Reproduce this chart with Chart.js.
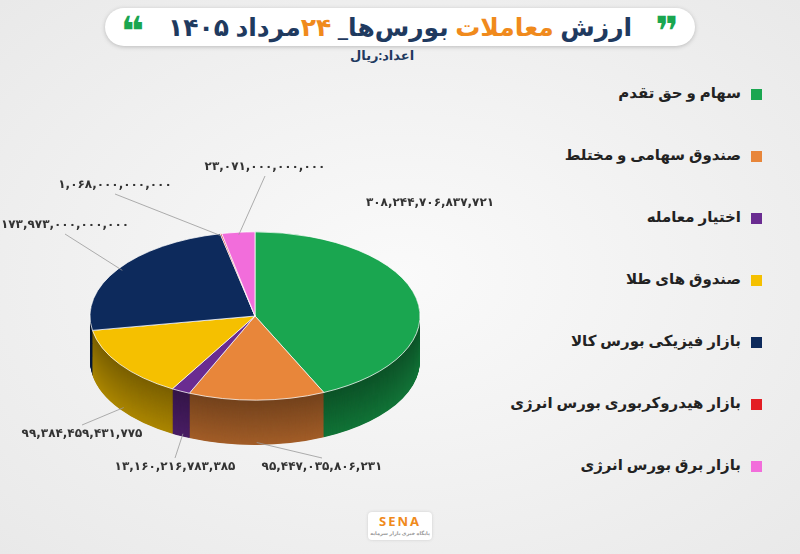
<!DOCTYPE html>
<html><head><meta charset="utf-8">
<script src="https://cdn.jsdelivr.net/npm/chart.js@4"></script>
<style>
body{margin:0;width:800px;height:554px;background:radial-gradient(ellipse at center,#fafafa,#e9e9e9);font-family:"Noto Sans","DejaVu Sans",sans-serif;position:relative;overflow:hidden}
#title{position:absolute;left:105px;top:8px;width:590px;height:38px;border-radius:20px;background:#fff;box-shadow:0 1px 4px #bbb;text-align:center;direction:rtl;font-weight:bold;font-size:25px;line-height:36px;color:#1f3a5f}
#title .o{color:#f08a1c}
#title .q{color:#1aa650;font-size:40px;position:absolute;top:4px}
#sub{position:absolute;left:350px;top:46px;font-size:13px;font-weight:bold;color:#1f3a5f;direction:rtl}
#legend{position:absolute;right:38px;top:82px;direction:rtl;width:300px}
.li{height:62px;font-size:15px;font-weight:bold;color:#222;display:flex;align-items:flex-start}
.sw{width:11px;height:11px;margin-left:10px;margin-top:7px}
#c{position:absolute;left:0;top:126px}
#logo{position:absolute;left:368px;top:512px;width:64px;height:28px;background:#fff;border-radius:4px;text-align:center;font-weight:bold;color:#f08a1c;font-size:13px;letter-spacing:2px;box-shadow:0 0 3px #ccc}
</style></head><body>
<div id="title"><span class="q" style="right:16px">❞</span>ارزش <span class="o">معاملات</span> بورس‌ها_ <span class="o">۲۴</span>مرداد ۱۴۰۵<span class="q" style="left:16px">❝</span></div>
<div id="sub">اعداد:ریال</div>
<div id="legend"></div>
<canvas id="c" width="510" height="380"></canvas>
<div id="logo">SENA<div style="font-size:5px;color:#999;letter-spacing:0">پایگاه خبری بازار سرمایه</div></div>
<script>
const categories=["سهام و حق تقدم","صندوق سهامی و مختلط","اختیار معامله","صندوق های طلا","بازار فیزیکی بورس کالا","بازار هیدروکربوری بورس انرژی","بازار برق بورس انرژی"];
const values=[308244706837721,95447035806231,13160216783385,99384459431775,173973000000000,1068000000000,23071000000000];
const colors=["#1aa650","#e8863a","#6a2c91","#f5c000","#0d2a5c","#e31e24","#f26ddb"];
const labelPos=[[430,80],[322,344],[175,344],[82,311],[65,102],[115,62],[265,44]];
const lg=document.getElementById('legend');
categories.forEach((c,i)=>{lg.innerHTML+=`<div class="li"><div class="sw" style="background:${colors[i]}"></div>${c}</div>`});
const fa=n=>n.toLocaleString('en-US').replace(/\d/g,d=>'۰۱۲۳۴۵۶۷۸۹'[d]);
const SY=0.51,DEPTH=88;
function dark(hex,f){const n=parseInt(hex.slice(1),16);return `rgb(${(n>>16&255)*f|0},${(n>>8&255)*f|0},${(n&255)*f|0})`;}
const tilt={id:'tilt',
beforeDatasetsDraw(ch){const ctx=ch.ctx,a=ch.getDatasetMeta(0).data[0];ctx.save();ctx.translate(a.x,a.y);ctx.scale(1,SY);ctx.translate(-a.x,-a.y);
 const els=ch.getDatasetMeta(0).data;
 for(let k=DEPTH;k>0;k-=1){ctx.save();ctx.translate(0,k);els.forEach((e,i)=>{const o=e.options.backgroundColor,b=e.options.borderWidth;e.options.backgroundColor=dark(colors[i],0.5+0.2*k/DEPTH);e.options.borderWidth=0;e.draw(ctx);e.options.backgroundColor=o;e.options.borderWidth=b;});ctx.restore();}
},
afterDatasetsDraw(ch){const ctx=ch.ctx;ctx.restore();
 const els=ch.getDatasetMeta(0).data;ctx.font='bold 12px "DejaVu Sans"';ctx.fillStyle='#333';ctx.strokeStyle='#999';ctx.lineWidth=0.8;ctx.textAlign='center';
 els.forEach((e,i)=>{const m=(e.startAngle+e.endAngle)/2,r=e.outerRadius;const cx=e.x,cy=e.y;
  const down=Math.sin(m)>0.3;
  const x1=cx+r*Math.cos(m)*0.97,y1=cy+r*Math.sin(m)*SY*0.97+(down?DEPTH*SY:0);
  const [lx,ly]=labelPos[i];
  if(i!==0){ctx.beginPath();ctx.moveTo(x1,y1);ctx.lineTo(lx,ly+(ly<y1?6:-12));ctx.stroke();}
  ctx.fillText(fa(values[i]),lx,ly);});
}};
new Chart(document.getElementById('c'),{type:'pie',data:{labels:categories,datasets:[{data:values,backgroundColor:colors,borderColor:'#fff',borderWidth:1}]},
options:{responsive:false,animation:false,radius:165,plugins:{legend:{display:false},tooltip:{enabled:false}}},plugins:[tilt]});
</script></body></html>
